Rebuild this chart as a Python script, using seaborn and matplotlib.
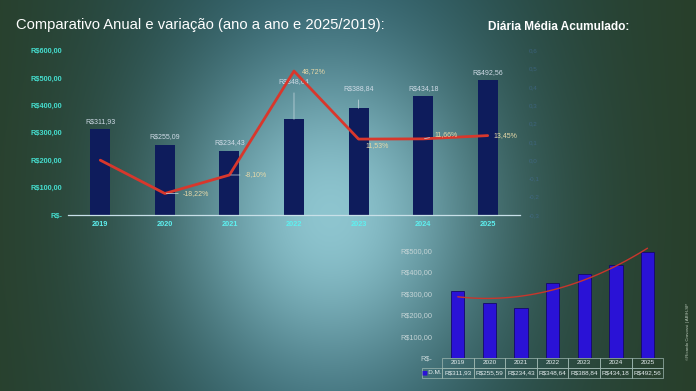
import numpy as np
import pandas as pd
import matplotlib
matplotlib.use("Agg")
import matplotlib.pyplot as plt
from matplotlib.ticker import FuncFormatter
import seaborn as sns

# dados
years = ["2019", "2020", "2021", "2022", "2023", "2024", "2025"]
diaria = [311.93, 255.09, 234.43, 348.64, 388.84, 434.18, 492.56]
diaria_labels = ["R$311,93", "R$255,09", "R$234,43", "R$348,64", "R$388,84", "R$434,18", "R$492,56"]
variacao = [0.0, -0.1822, -0.0810, 0.4872, 0.1153, 0.1166, 0.1345]
variacao_labels = ["", "-18,22%", "-8,10%", "48,72%", "11,53%", "11,66%", "13,45%"]
acumulado = [311.93, 255.59, 234.43, 348.64, 388.84, 434.18, 492.56]
acumulado_labels = ["R$311,93", "R$255,59", "R$234,43", "R$348,64", "R$388,84", "R$434,18", "R$492,56"]

title = "Comparativo Anual e variação (ano a ano e 2025/2019):"
subtitle = "Diária Média Acumulado:"
credit = "©Ricardo Cravossi | ABIH-SP"

sns.set_style("white")
plt.rcParams["font.family"] = ["Liberation Sans", "DejaVu Sans"]


def brl(v, pos=None):
    if abs(v) < 1e-9:
        return "R$-"
    return f"R${v:.2f}".replace(".", ",")


fig = plt.figure(figsize=(6.96, 3.91), dpi=100)

# fundo em degradê (verde escuro nas bordas, azul claro no centro)
H, W = 391, 696
xx, yy = np.meshgrid(np.arange(W), np.arange(H))
c_edge = np.array([0.16, 0.235, 0.135])
c_mid = np.array([0.15, 0.33, 0.37])
c_light = np.array([0.60, 0.82, 0.86])
t = np.exp(-((xx - 330) / 260.0) ** 2)[..., None]
base = c_edge * (1 - t) + c_mid * t
s = (0.9 * np.exp(-(((xx - 330) / 150.0) ** 2 + ((yy - 215) / 170.0) ** 2)))[..., None]
img = base * (1 - s) + c_light * s
bg = fig.add_axes([0, 0, 1, 1], zorder=-1)
bg.imshow(img, aspect="auto", extent=(0, 1, 0, 1))
bg.axis("off")

fig.text(0.023, 0.936, title, fontsize=10.6, color="white", va="center")
fig.text(0.701, 0.931, subtitle, fontsize=8.6, color="white", fontweight="bold", va="center")
fig.text(0.989, 0.079, credit, fontsize=3.2, color="#b8c8b8", rotation=90, ha="center", va="bottom")

# gráfico principal
ax = fig.add_axes([0.0977, 0.450, 0.6494, 0.421])
ax.patch.set_alpha(0)
df = pd.DataFrame({"ano": years, "diaria": diaria})
sns.barplot(data=df, x="ano", y="diaria", color="#0e1c5c", width=0.31, saturation=1,
            edgecolor="none", linewidth=0, ax=ax)
ax.set_xlim(-0.5, 6.5)
ax.set_ylim(0, 600)
ax.set_yticks(np.arange(0, 601, 100))
ax.yaxis.set_major_formatter(FuncFormatter(brl))
ax.set_xlabel("")
ax.set_ylabel("")
ax.tick_params(axis="y", length=0, pad=4, labelsize=5.3, labelcolor="#45dccd")
ax.tick_params(axis="x", length=0, pad=4, labelsize=5.3, labelcolor="#5ef0f0")
for lbl in ax.get_xticklabels() + ax.get_yticklabels():
    lbl.set_fontweight("bold")
for sp in ["top", "right", "left"]:
    ax.spines[sp].set_visible(False)
ax.spines["bottom"].set_color("#c8e0e8")
ax.spines["bottom"].set_linewidth(0.9)

bar_offsets = [6, 6, 6, 27, 14, 5.5, 5.5]
for i, (v, lbl) in enumerate(zip(diaria, diaria_labels)):
    arrow = dict(arrowstyle="-", color="#c8d8e0", lw=0.5, shrinkA=3, shrinkB=0) if bar_offsets[i] > 10 else None
    ax.annotate(lbl, (i, v), xytext=(0, bar_offsets[i]), textcoords="offset points",
                ha="center", va="center", fontsize=5, color="#cfdbe6", arrowprops=arrow)

ax2 = ax.twinx()
sns.lineplot(x=np.arange(len(years)), y=variacao, color="#d8372c", lw=2, ax=ax2)
ax2.set_ylim(-0.3, 0.6)
ax2.set_yticks(np.arange(-0.3, 0.61, 0.1))
ax2.yaxis.set_major_formatter(FuncFormatter(lambda v, p: f"{v:.1f}".replace(".", ",").replace("-0,0", "0,0")))
ax2.tick_params(axis="y", length=0, pad=6, labelsize=4.5, labelcolor="#4a74b0")
for lbl in ax2.get_yticklabels():
    lbl.set_alpha(0.45)
for sp in ax2.spines.values():
    sp.set_visible(False)

pct_offsets = [(0, 0), (13, 0), (11, 0), (6, 0), (5, -5), (8, 3), (4, 0)]
pct_leader = [False, True, True, False, False, True, False]
for i, (v, lbl) in enumerate(zip(variacao, variacao_labels)):
    if not lbl:
        continue
    arrow = dict(arrowstyle="-", color="#c8d8e0", lw=0.5, shrinkA=1, shrinkB=1) if pct_leader[i] else None
    ax2.annotate(lbl, (i, v), xytext=pct_offsets[i], textcoords="offset points",
                 ha="left", va="center", fontsize=5, color="#e6d8a8", arrowprops=arrow)

# gráfico menor: diária média acumulado
ax3 = fig.add_axes([0.635, 0.0844, 0.318, 0.2916])
ax3.patch.set_alpha(0)
sns.barplot(x=years, y=acumulado, color="#2a12d6", width=0.42, saturation=1,
            edgecolor="#14086a", linewidth=0.6, ax=ax3)
xs = np.linspace(0, len(years) - 1, 100)
trend = np.polyval(np.polyfit(np.arange(len(years)), acumulado, 2), xs)
sns.lineplot(x=xs, y=trend, color="#c8362c", lw=1, ax=ax3)
ax3.set_xlim(-0.5, 6.5)
ax3.set_ylim(0, 530)
ax3.set_yticks(np.arange(0, 501, 100))
ax3.yaxis.set_major_formatter(FuncFormatter(brl))
ax3.set_xticks([])
ax3.set_xlabel("")
ax3.set_ylabel("")
ax3.tick_params(axis="y", length=0, pad=7, labelsize=5.3, labelcolor="#c4d4d6")
for sp in ax3.spines.values():
    sp.set_visible(False)

cell_text = [[""] + years, ["   D.M."] + acumulado_labels]
tab = ax3.table(cellText=cell_text, cellLoc="center", colWidths=[0.09] + [1 / 7] * 7,
                bbox=[-0.09, -0.175, 1.09, 0.175])
tab.auto_set_font_size(False)
for (r, c), cell in tab.get_celld().items():
    cell.set_facecolor("none")
    cell.set_edgecolor("#9fb8b2")
    cell.set_linewidth(0.5)
    cell.get_text().set_fontsize(4.6)
    cell.get_text().set_color("#e4ecee")
    if r == 0 and c == 0:
        cell.visible_edges = ""
ax3.text(-0.078, -0.131, "■", transform=ax3.transAxes, fontsize=4.5, color="#2a12d6",
         ha="center", va="center", family="DejaVu Sans")

fig.savefig("out.png", dpi=100)
